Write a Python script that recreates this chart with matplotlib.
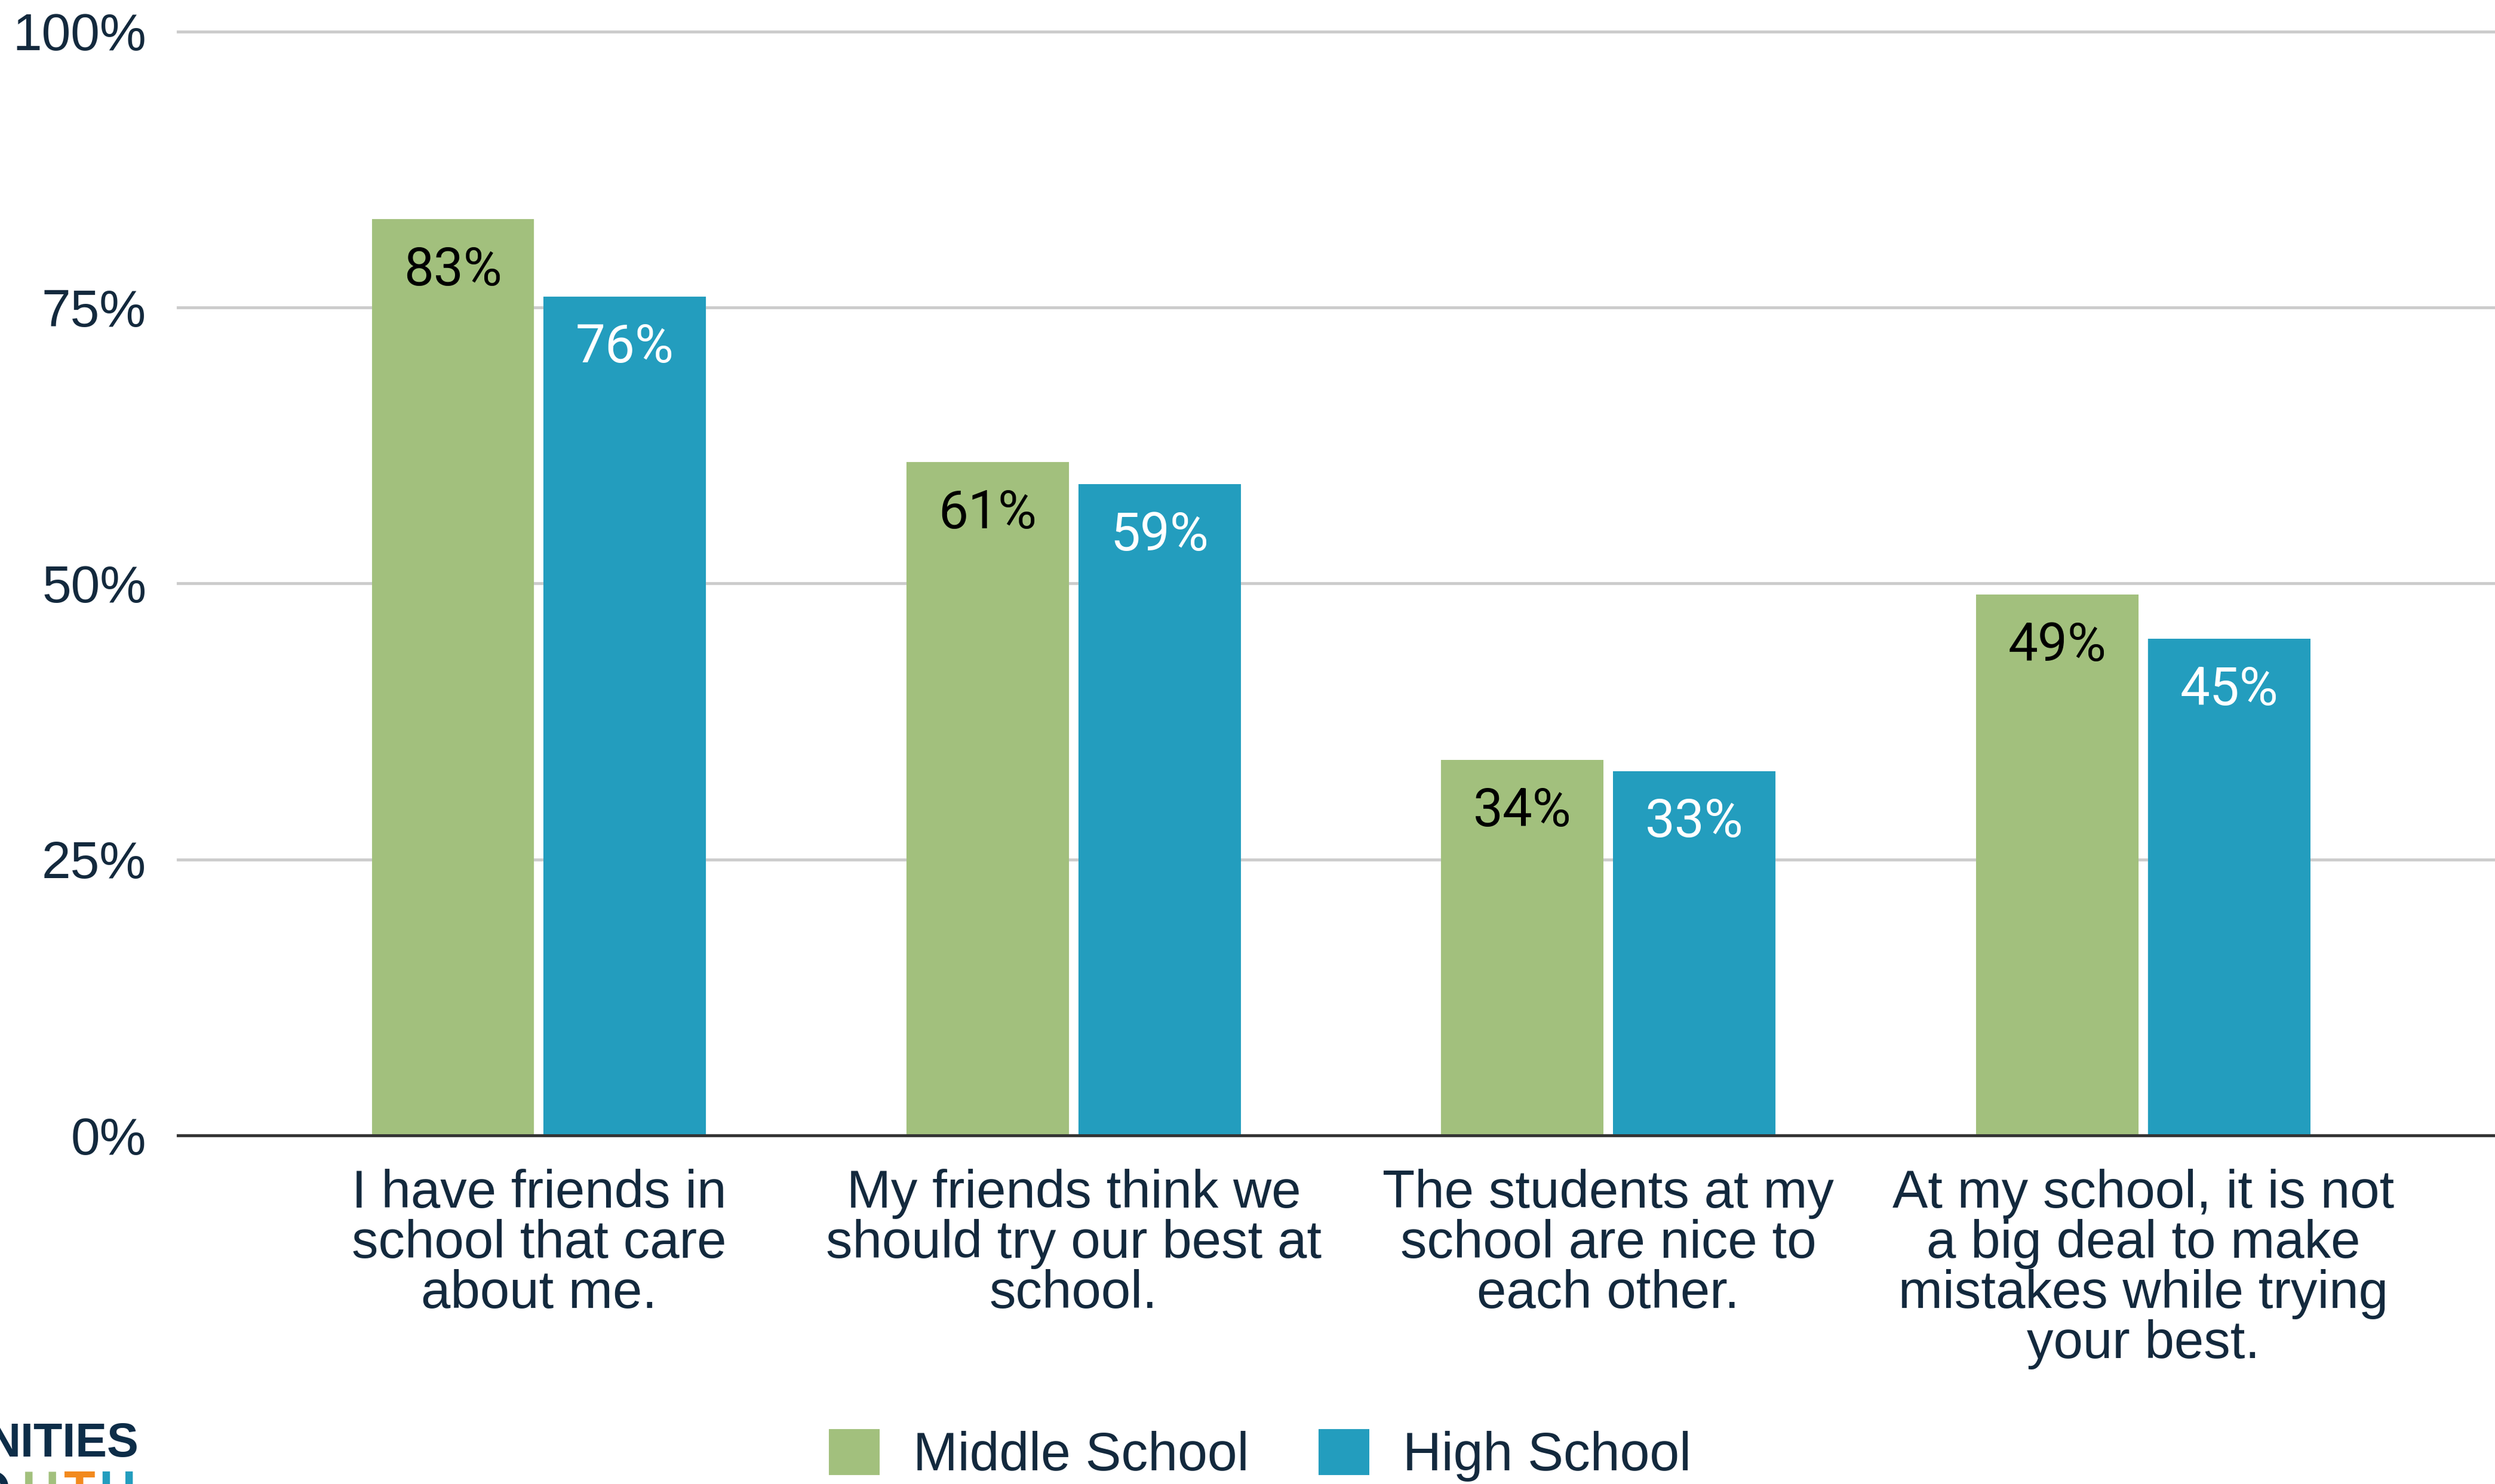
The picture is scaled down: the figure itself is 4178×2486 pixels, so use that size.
import matplotlib.pyplot as plt
import numpy as np
from matplotlib.patches import Patch

categorias = [
    "I have friends in\nschool that care\nabout me.",
    "My friends think we\nshould try our best at\nschool.",
    "The students at my\nschool are nice to\neach other.",
    "At my school, it is not\na big deal to make\nmistakes while trying\nyour best.",
]
middle_school = [83, 61, 34, 49]
high_school = [76, 59, 33, 45]
series = ["Middle School", "High School"]

verde = "#a2c07d"
azul = "#239dbe"
texto = "#13293d"

plt.rcParams["font.family"] = ["Liberation Sans", "DejaVu Sans"]

fig = plt.figure(figsize=(41.78, 24.86), dpi=100)
ax = fig.add_axes([0.0713, 0.2349, 0.9287, 0.7438])

x = np.arange(len(categorias))
largura = 0.3036
desloc = 0.1607

b1 = ax.bar(x - desloc, middle_school, largura, color=verde, zorder=3)
b2 = ax.bar(x + desloc, high_school, largura, color=azul, zorder=3)

# rótulos de valor dentro do topo das barras
for barras, valores, cor in [(b1, middle_school, "black"), (b2, high_school, "white")]:
    for barra, v in zip(barras, valores):
        ax.annotate(f"{v}%", (barra.get_x() + barra.get_width() / 2, v),
                    xytext=(0, -62), textcoords="offset points",
                    ha="center", va="center", fontsize=64, color=cor,
                    family=["Roboto", "DejaVu Sans"], zorder=4)

ax.set_xlim(-0.675, 3.658)
ax.set_ylim(0, 100)
ax.set_yticks([0, 25, 50, 75, 100])
ax.set_yticklabels([f"{t}%" for t in [0, 25, 50, 75, 100]])
ax.yaxis.grid(True, color="#cccccc", linewidth=3.5, zorder=0)
ax.set_axisbelow(True)
for g in ax.get_ygridlines():
    g.set_clip_on(False)

ax.set_xticks(x)
ax.set_xticklabels(categorias, linespacing=1.0, va="top")
ax.tick_params(axis="both", length=0, labelsize=64, labelcolor=texto)
ax.tick_params(axis="y", labelsize=63, pad=38)
ax.tick_params(axis="x", pad=40)

for lado in ["top", "right", "left"]:
    ax.spines[lado].set_visible(False)
ax.spines["bottom"].set_color("#333333")
ax.spines["bottom"].set_linewidth(3.5)
ax.spines["bottom"].set_zorder(5)

handles = [Patch(facecolor=verde, label=series[0]), Patch(facecolor=azul, label=series[1])]
leg = fig.legend(handles=handles, loc="center", bbox_to_anchor=(0.505, 0.0193), ncol=2,
                 frameon=False, fontsize=64.5, handlelength=0.95, handleheight=0.95,
                 handletextpad=0.62, columnspacing=1.3, labelcolor=texto)

# logotipo cortado no canto inferior esquerdo
fig.text(233 / 4178, 1 - 2440 / 2486, "NITIES", ha="right", va="baseline", fontsize=57,
         fontweight="bold", color="#0d2d48")
letras = ["O", "U", "T", "H"]
cores = ["#0d2d48", "#a2c07d", "#f28a1e", "#239dbe"]
xs = [-50, 37, 107, 165]
for letra, cor, xp in zip(letras, cores, xs):
    fig.text(xp / 4178, 1 - 2462 / 2486, letra, ha="left", va="top", fontsize=62,
             fontweight="bold", color=cor)

fig.savefig("out.png", dpi=100, facecolor="white")
